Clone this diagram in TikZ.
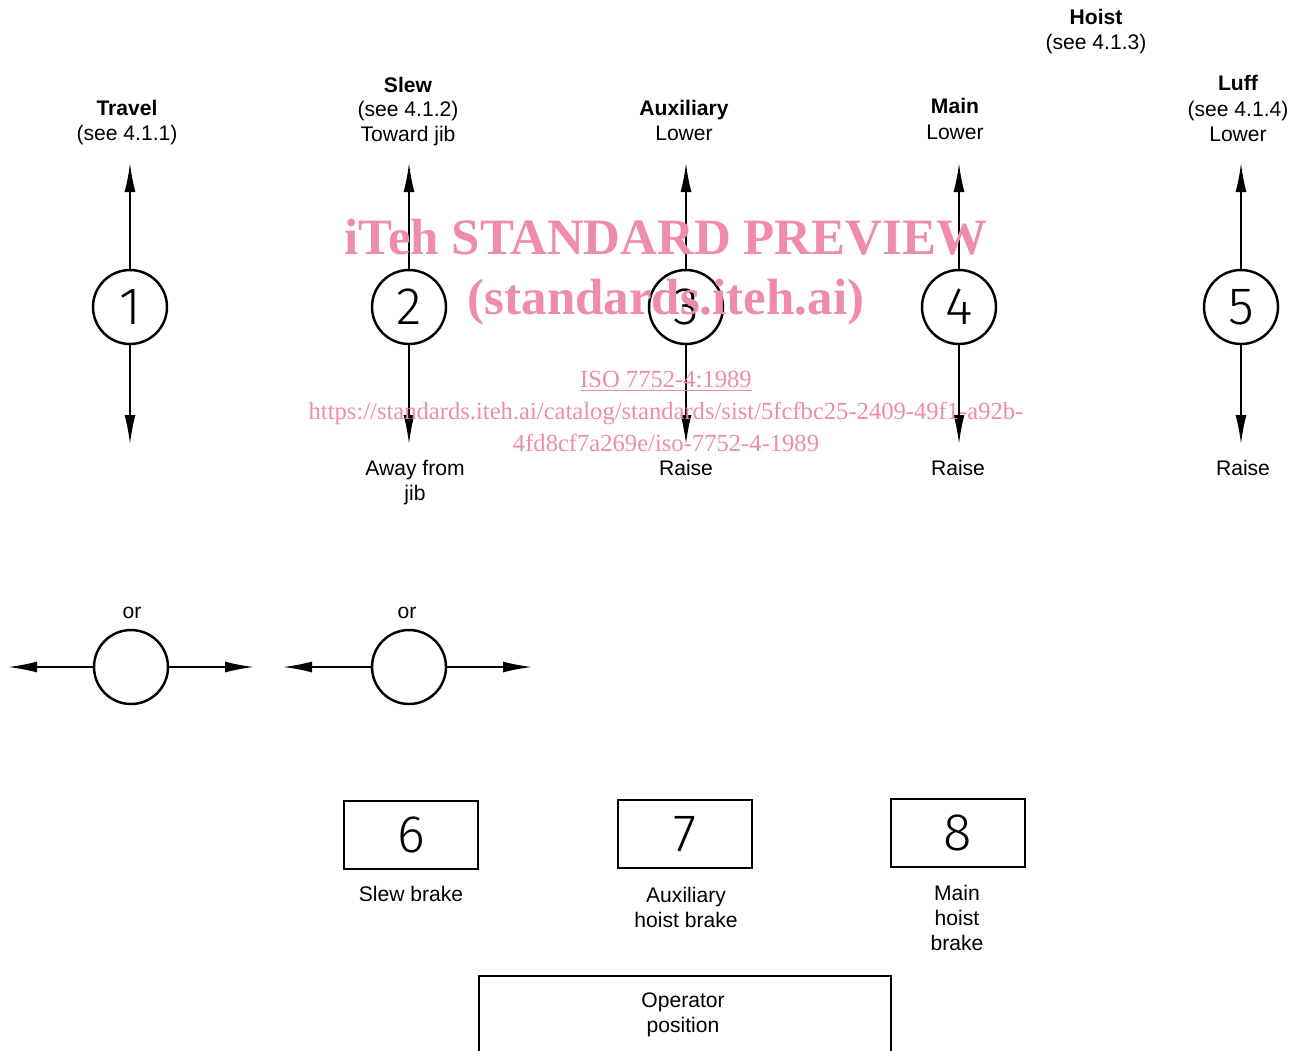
\documentclass[tikz,border=0pt]{standalone}
\usepackage{fontspec}
\setmainfont{Liberation Sans}
\newfontfamily\wmfont{Liberation Serif}
\newfontfamily\digitfont{Fira Sans Light}
\usetikzlibrary{arrows.meta,positioning}
\definecolor{wmpink}{RGB}{238,140,170}

\begin{document}
\begin{tikzpicture}[
  x=0.2mm, y=-0.2mm,
  font=\fontsize{12}{14.2}\selectfont,
  ctrl/.style={circle, draw, line width=1.4pt, minimum size=14.8mm,
               inner sep=0pt, font=\digitfont\fontsize{30}{30}\selectfont},
  brake/.style={draw, line width=1.4pt, minimum width=26.8mm,
                minimum height=13.6mm, inner sep=0pt,
                font=\digitfont\fontsize{30}{30}\selectfont},
  arr/.style={-{Latex[length=5.8mm,width=2.2mm]}, line width=1.1pt},
  lbl/.style={align=center, inner sep=0pt},
  head/.style={lbl, font=\fontsize{12}{14.2}\selectfont\bfseries},
  wm/.style={align=center, text=wmpink, inner sep=0pt},
]
\useasboundingbox (0,0) rectangle (1295,1050);

% control levers with double arrows
\foreach \n/\x in {1/130,2/409,3/686,4/959,5/1241}{
  \node[ctrl] (c\n) at (\x,307) {\n};
  \coordinate (up\n) at (\x,163);
  \coordinate (dn\n) at (\x,444);
  \draw[arr] (c\n) -- (up\n);
  \draw[arr] (c\n) -- (dn\n);
}

% headings
\node[head] (travel) at (127,108) {Travel};
\node[lbl] (travelref) at (127,135) {(see 4.1.1)};
\node[head] (slew) at (408,85) {Slew};
\node[lbl] (slewref) at (408,124) {(see 4.1.2)\\Toward jib};
\node[head] (aux) at (684,110) {Auxiliary};
\node[lbl] (auxlow) at (684,133) {Lower};
\node[head] (main) at (955,106) {Main};
\node[lbl] (mainlow) at (955,132) {Lower};
\node[head] (hoist) at (1096,17) {Hoist};
\node[lbl] (hoistref) at (1096,44) {(see 4.1.3)};
\node[head] (luff) at (1238,83) {Luff};
\node[lbl] (luffref) at (1238,121) {(see 4.1.4)\\Lower};

% lower direction labels
\node[lbl] (slewaway) at (415,483) {Away from\\jib};
\node[lbl] (auxraise) at (686,468) {Raise};
\node[lbl] (mainraise) at (958,468) {Raise};
\node[lbl] (luffraise) at (1243,468) {Raise};

% alternative horizontal levers
\node[lbl] (or1) at (132,613) {or};
\node[lbl] (or2) at (407,613) {or};
\node[ctrl] (a1) at (131,667) {};
\node[ctrl] (a2) at (409,667) {};
\coordinate (a1l) at (8,667);
\coordinate (a1r) at (254,667);
\coordinate (a2l) at (283,667);
\coordinate (a2r) at (532,667);
\draw[arr] (a1) -- (a1l);
\draw[arr] (a1) -- (a1r);
\draw[arr] (a2) -- (a2l);
\draw[arr] (a2) -- (a2r);

% brake pedals
\node[brake] (b6) at (411,835) {6};
\node[brake] (b7) at (685,834) {7};
\node[brake] (b8) at (958,833) {8};
\node[lbl] (b6txt) at (411,894) {Slew brake};
\node[lbl] (b7txt) at (686,907) {Auxiliary\\hoist brake};
\node[lbl] (b8txt) at (957,918) {Main\\hoist\\brake};

% operator position (cut off at the bottom)
\node[draw, line width=1.4pt, minimum width=82.4mm, minimum height=24mm,
      anchor=north, inner sep=0pt] (op) at (685,975) {};
\node[lbl] (optxt) at (683,1015) {Operator\\position};

% watermark
\node[wm, font=\wmfont\bfseries\fontsize{29}{34}\selectfont] (wmtitle) at (666,272)
  {iTeh STANDARD PREVIEW\\(standards.iteh.ai)};
\node[wm, font=\wmfont\fontsize{14}{18.2}\selectfont] (wmref) at (666,411)
  {\underline{ISO 7752-4:1989}\\
   https://standards.iteh.ai/catalog/standards/sist/5fcfbc25-2409-49f1-a92b-\\
   4fd8cf7a269e/iso-7752-4-1989};
\end{tikzpicture}
\end{document}
